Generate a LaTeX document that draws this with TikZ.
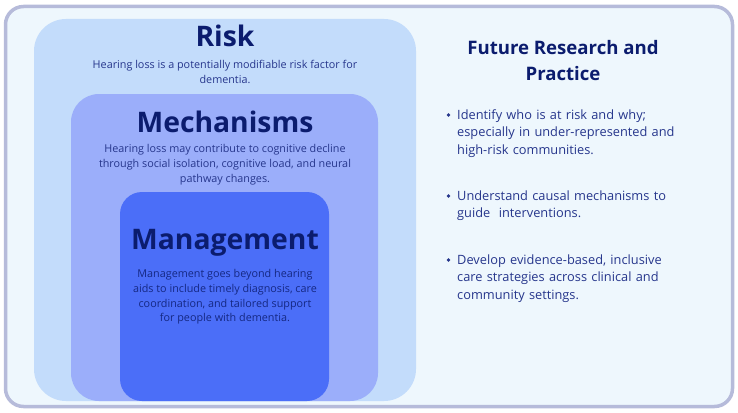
\documentclass[tikz,border=0pt]{standalone}
\usepackage{fontspec}
\setmainfont{Open Sans}
\definecolor{frameB}{HTML}{B6BBDA}
\definecolor{frameF}{HTML}{EEF7FD}
\definecolor{riskF}{HTML}{C3DCFB}
\definecolor{mechF}{HTML}{9BAEFA}
\definecolor{mgmtF}{HTML}{4B6EF8}
\definecolor{titleC}{HTML}{0B1C6E}
\definecolor{bodyC}{HTML}{26368C}
\begin{document}
\begin{tikzpicture}[x=1pt,y=-1pt,
  ttl/.style={font=\bfseries\fontsize{28.3}{32}\selectfont, text=titleC, inner sep=0pt, anchor=center},
  bod/.style={font=\fontsize{10.8}{14.6}\selectfont, text=bodyC, align=center, inner sep=0pt, anchor=north},
  bul/.style={font=\fontsize{12.8}{17.4}\selectfont, text=bodyC, align=left, inner sep=0pt, anchor=north west, text width=260pt}
]
\useasboundingbox (0,0) rectangle (738,412);
\draw[frameB, line width=3.5pt, fill=frameF, rounded corners=18pt] (5.5,6.5) rectangle (732.5,406.5);
\fill[riskF, rounded corners=32pt] (34,19) rectangle (416,401);
\fill[mechF, rounded corners=28pt] (71,94) rectangle (378,401);
\fill[mgmtF, rounded corners=22pt] (120,192) rectangle (329,401);

\node[ttl] (risk) at (225,36) {Risk};
\node[bod] (riskt) at (225,60) {Hearing loss is a potentially modifiable risk factor for\\dementia.};
\node[ttl] (mech) at (225,122) {Mechanisms};
\node[bod] (mecht) at (225,144.5) {Hearing loss may contribute to cognitive decline\\through social isolation, cognitive load, and neural\\pathway changes.};
\node[ttl] (mgmt) at (225,243) {Management};
\node[bod, text=titleC!85!mgmtF] (mgmtt) at (225,269.5) {Management goes beyond hearing\\aids to include timely diagnosis, care\\coordination, and tailored support\\for people with dementia.};

\node[font=\bfseries\fontsize{18.6}{26}\selectfont, text=titleC, align=center, inner sep=0pt] (fut) at (563,61) {Future Research and\\Practice};

\node[bul] (b1) at (457,109.5) {Identify who is at risk and why;\\especially in under-represented and\\high-risk communities.};
\node[bul] (b2) at (457,190.5) {Understand causal mechanisms to\\guide\ \ interventions.};
\node[bul] (b3) at (457,254.5) {Develop evidence-based, inclusive\\care strategies across clinical and\\community settings.};
\foreach \n/\yy in {b1/115, b2/196, b3/260}
  \fill[bodyC] (448.5,\yy) circle (1.8pt);
\end{tikzpicture}
\end{document}
